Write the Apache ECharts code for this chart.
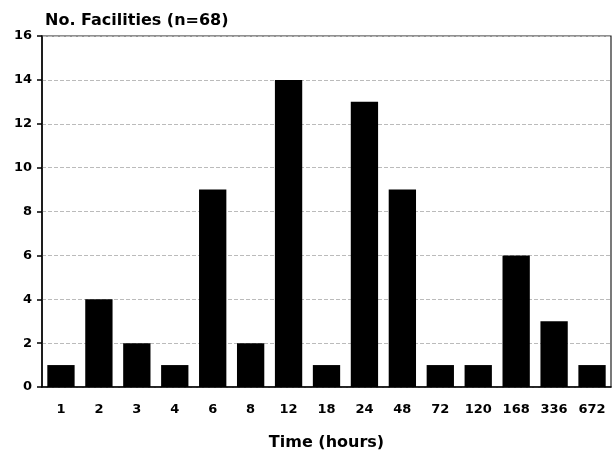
<!DOCTYPE html>
<html><head><meta charset="utf-8">
<script src="https://cdn.jsdelivr.net/npm/echarts@6/dist/echarts.min.js"></script>
<style>html,body{margin:0;padding:0;background:#fff}#c{width:613px;height:455px}</style>
</head><body><div id="c"></div>
<script>
const categories = ['1','2','3','4','6','8','12','18','24','48','72','120','168','336','672'];
const facilities = [1,4,2,1,9,2,14,1,13,9,1,1,6,3,1];
const yTicks = {min:0, max:16, interval:2};

const chart = echarts.init(document.getElementById('c'));
const font = 'DejaVu Sans, Liberation Sans, Arial, sans-serif';
chart.setOption({
  animation:false,
  backgroundColor:'#fff',
  title:{text:'No. Facilities (n=68)', left:40, top:8,
    textStyle:{fontFamily:font, fontWeight:'bold', fontSize:16, color:'#000'}},
  grid:{left:42, right:2, top:36, bottom:68, show:true, borderColor:'#222', borderWidth:1.2,
    backgroundColor:'transparent', containLabel:false, outerBoundsMode:'none'},
  xAxis:{type:'category', data:categories,
    name:'Time (hours)', nameLocation:'middle', nameGap:48,
    nameTextStyle:{fontFamily:font, fontWeight:'bold', fontSize:16, color:'#000'},
    axisLine:{lineStyle:{color:'#000', width:1.5}},
    axisTick:{alignWithLabel:true, length:6, lineStyle:{color:'#000', width:1.5}},
    axisLabel:{fontFamily:font, fontWeight:'bold', fontSize:13, color:'#000', margin:16}},
  yAxis:{type:'value', min:yTicks.min, max:yTicks.max, interval:yTicks.interval,
    axisLine:{show:true, lineStyle:{color:'#000', width:1.5}},
    axisTick:{show:true, length:5, lineStyle:{color:'#000', width:1.5}},
    axisLabel:{fontFamily:font, fontWeight:'bold', fontSize:13, color:'#000', margin:10},
    splitLine:{show:true, lineStyle:{color:'#bbb', type:'dashed', width:1}}},
  series:[{type:'bar', data:facilities, barWidth:'72%', itemStyle:{color:'#000'}}]
});
</script></body></html>
